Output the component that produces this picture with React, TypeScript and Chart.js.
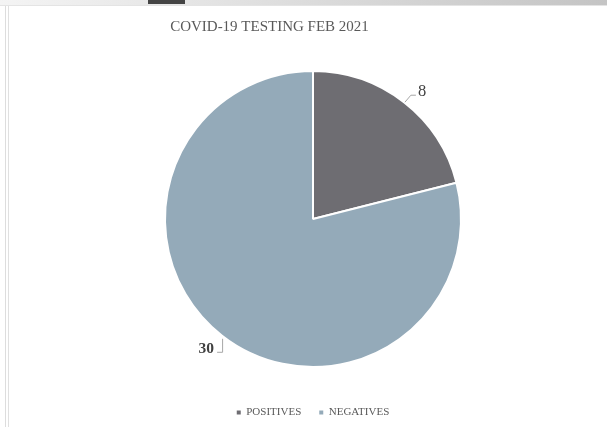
import React, { useEffect, useRef } from "react";
import { Chart, registerables } from "chart.js";

Chart.register(...registerables);

const TITLE = "COVID-19 TESTING FEB 2021";
const CATEGORIES = ["POSITIVES", "NEGATIVES"];
const VALUES = [8, 30];
const COLORS = ["#6e6d72", "#94aab9"];

const FONT = "'Liberation Serif', 'Times New Roman', serif";

const titlePlugin = {
  id: "offsetTitle",
  afterDraw(chart: any) {
    const ctx = chart.ctx;
    ctx.save();
    ctx.font = `normal 15px ${FONT}`;
    ctx.fillStyle = "#595959";
    ctx.textAlign = "center";
    ctx.textBaseline = "middle";
    ctx.fillText(TITLE, chart.width / 2 - 34, 27);
    ctx.restore();
  },
};

const labelPlugin = {
  id: "sliceLabels",
  afterDatasetsDraw(chart: any) {
    const meta = chart.getDatasetMeta(0);
    const ctx = chart.ctx;
    ctx.save();
    meta.data.forEach((arc: any, i: number) => {
      const { x, y, startAngle, endAngle, outerRadius } = arc.getProps(
        ["x", "y", "startAngle", "endAngle", "outerRadius"],
        true
      );
      const mid = (startAngle + endAngle) / 2;
      const px = x + Math.cos(mid) * outerRadius;
      const py = y + Math.sin(mid) * outerRadius;
      ctx.strokeStyle = "#a6a6a6";
      ctx.lineWidth = 1;
      ctx.fillStyle = "#404040";
      ctx.textBaseline = "middle";
      const text = String(VALUES[i]);
      if (Math.cos(mid) >= 0) {
        ctx.beginPath();
        ctx.moveTo(px + 1, py);
        ctx.lineTo(px + 7, py - 7);
        ctx.lineTo(px + 12, py - 7);
        ctx.stroke();
        ctx.font = `normal 16.5px ${FONT}`;
        ctx.textAlign = "left";
        ctx.fillText(text, px + 14, py - 11);
      } else {
        ctx.beginPath();
        ctx.moveTo(px + 0.5, py + 3);
        ctx.lineTo(px + 0.5, py + 16.5);
        ctx.lineTo(px - 5, py + 16.5);
        ctx.stroke();
        ctx.font = `bold 15.5px ${FONT}`;
        ctx.textAlign = "right";
        ctx.fillText(text, px - 8, py + 13);
      }
    });
    ctx.restore();
  },
};

export default function App() {
  const ref = useRef<HTMLCanvasElement | null>(null);

  useEffect(() => {
    if (!ref.current) return;
    const chart = new Chart(ref.current, {
      type: "pie",
      data: {
        labels: CATEGORIES,
        datasets: [
          {
            data: VALUES,
            backgroundColor: COLORS,
            borderColor: "#ffffff",
            borderWidth: 2,
            radius: 148,
          } as any,
        ],
      },
      options: {
        responsive: false,
        animation: false,
        layout: { padding: { left: 19, right: 0, top: 49, bottom: 0 } },
        plugins: {
          title: { display: false },
          legend: {
            display: true,
            position: "bottom",
            maxHeight: 38,
            labels: {
              color: "#595959",
              font: { family: FONT, size: 11 },
              boxWidth: 4,
              boxHeight: 4,
              padding: 18,
              generateLabels: (c: any) =>
                (Chart as any).overrides.pie.plugins.legend.labels
                  .generateLabels(c)
                  .map((l: any) => ({ ...l, strokeStyle: l.fillStyle, lineWidth: 0 })),
            },
          },
          tooltip: { enabled: false },
        },
      },
      plugins: [labelPlugin, titlePlugin],
    });
    return () => chart.destroy();
  }, []);

  return (
    <div
      style={{
        position: "fixed",
        left: 0,
        top: 0,
        width: 607,
        height: 427,
        background: "#ffffff",
        overflow: "hidden",
      }}
    >
      <div
        style={{
          position: "absolute",
          left: 0,
          top: 0,
          width: 607,
          height: 5,
          background: "linear-gradient(to right, #f4f4f4, #c4c4c4)",
        }}
      />
      <div
        style={{
          position: "absolute",
          left: 148,
          top: 0,
          width: 37,
          height: 4,
          background: "#444444",
        }}
      />
      <div
        style={{
          position: "absolute",
          left: 0,
          top: 5,
          width: 607,
          height: 1,
          background: "#e4e4e4",
        }}
      />
      <div
        style={{
          position: "absolute",
          left: 5,
          top: 6,
          width: 1,
          height: 421,
          background: "#dddddd",
        }}
      />
      <div
        style={{
          position: "absolute",
          left: 8,
          top: 6,
          width: 1,
          height: 421,
          background: "#e0e0e0",
        }}
      />
      <canvas
        ref={ref}
        width={607}
        height={427}
        style={{ position: "absolute", left: 0, top: 0, width: 607, height: 427 }}
      />
    </div>
  );
}
